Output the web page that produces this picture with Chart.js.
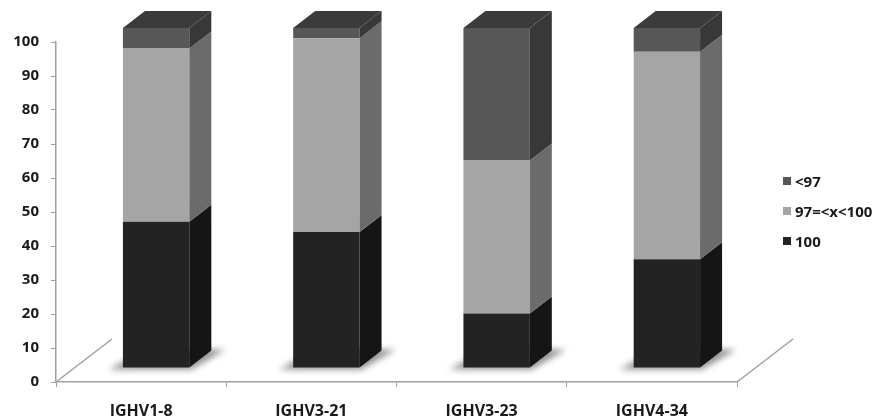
<!DOCTYPE html>
<html>
<head>
<meta charset="utf-8">
<script src="https://cdn.jsdelivr.net/npm/chart.js@4.4.0/dist/chart.umd.min.js"></script>
<style>
body { margin: 0; background: #fff; }
#wrap { position: relative; width: 885px; height: 419px; }
#legend { position: absolute; left: 783px; top: 166px; font: bold 15px "Open Sans", sans-serif; color: #1a1a1a; }
.item { height: 30px; display: flex; align-items: center; }
.box { width: 8px; height: 8px; margin-right: 4px; }
</style>
</head>
<body>
<div id="wrap">
  <canvas id="chart-bar" width="885" height="419"></canvas>
  <div id="legend"></div>
</div>
<script>
// data (percent)
var categories = ['IGHV1-8', 'IGHV3-21', 'IGHV3-23', 'IGHV4-34'];
var seriesNames = ['100', '97=<x<100', '<97'];
var val100 = [43, 40, 16, 32];
var val97to100 = [51, 57, 45, 61];
var valBelow97 = [6, 3, 39, 7];

var frontColors = ['#232323', '#a5a5a5', '#575757'];
var sideColors = ['#151515', '#6b6b6b', '#383838'];
var topColor = '#3b3b3b';

// 3d look
var shiftX = 15, shiftY = -14, depthX = 22, depthY = -17;

function poly(ctx, pts) {
    ctx.beginPath();
    ctx.moveTo(pts[0][0], pts[0][1]);
    for (var i = 1; i < pts.length; i++) ctx.lineTo(pts[i][0], pts[i][1]);
    ctx.closePath();
    ctx.fill();
}

var bars3d = {
    id: 'bars3d',
    beforeDatasetsDraw: function(chart) {
        var ctx = chart.ctx;
        var a = chart.chartArea;
        // floor edges
        ctx.save();
        ctx.strokeStyle = '#a0a0a0';
        ctx.lineWidth = 1.5;
        ctx.beginPath();
        ctx.moveTo(a.left, a.bottom); ctx.lineTo(a.left + 56, a.bottom - 43);
        ctx.moveTo(a.right, a.bottom); ctx.lineTo(a.right + 56, a.bottom - 43);
        ctx.stroke();
        ctx.restore();

        ctx.save();
        ctx.translate(shiftX, shiftY);
        // shadows on the floor
        ctx.fillStyle = 'rgba(100,100,100,0.7)';
        ctx.filter = 'blur(3px)';
        chart.getDatasetMeta(0).data.forEach(function(bar) {
            var p = bar.getProps(['x', 'base', 'width'], true);
            var lx = p.x - p.width / 2, rx = p.x + p.width / 2, b = p.base;
            poly(ctx, [[lx - 14, b + 2], [rx + 2, b + 2], [rx + depthX + 14, b + depthY - 1], [lx + depthX, b + depthY - 1]]);
        });
        ctx.filter = 'none';
        // translation stays on while chart.js draws the fronts
    },
    afterDatasetsDraw: function(chart) {
        var ctx = chart.ctx;
        var n = chart.data.datasets.length;
        for (var i = 0; i < n; i++) {
            chart.getDatasetMeta(i).data.forEach(function(bar) {
                var p = bar.getProps(['x', 'y', 'base', 'width'], true);
                var lx = p.x - p.width / 2, rx = p.x + p.width / 2;
                var top = Math.min(p.y, p.base), bot = Math.max(p.y, p.base);
                ctx.fillStyle = sideColors[i];
                poly(ctx, [[rx, top], [rx + depthX, top + depthY], [rx + depthX, bot + depthY], [rx, bot]]);
                if (i == n - 1) {
                    ctx.fillStyle = topColor;
                    poly(ctx, [[lx, top], [lx + depthX, top + depthY], [rx + depthX, top + depthY], [rx, top]]);
                }
            });
        }
        ctx.restore();
    }
};

const ctx = document.getElementById('chart-bar').getContext('2d');
const myChart = new Chart(ctx, {
    type: 'bar',
    data: {
        labels: categories,
        datasets: [{
            label: seriesNames[0],
            data: val100,
            backgroundColor: frontColors[0],
            borderWidth: 0,
            clip: false
        },
        {
            label: seriesNames[1],
            data: val97to100,
            backgroundColor: frontColors[1],
            borderWidth: 0,
            clip: false
        },
        {
            label: seriesNames[2],
            data: valBelow97,
            backgroundColor: frontColors[2],
            borderWidth: 0,
            clip: false
        }]
    },
    options: {
        responsive: false,
        animation: false,
        layout: { padding: { top: 42, right: 148, left: 0, bottom: 0 } },
        datasets: { bar: { categoryPercentage: 1, barPercentage: 0.39 } },
        plugins: { legend: { display: false }, tooltip: { enabled: false } },
        scales: {
            x: {
                stacked: true,
                grid: { drawOnChartArea: false, color: '#a0a0a0', tickLength: 5 },
                border: { color: '#a0a0a0', width: 1.5 },
                ticks: { font: { family: 'Open Sans', size: 16, weight: 'bold' }, color: '#1a1a1a', padding: 15 },
                afterFit: function(s) { s.height = 37; }
            },
            y: {
                stacked: true,
                min: 0,
                max: 100,
                ticks: { stepSize: 10, font: { family: 'Open Sans', size: 15, weight: 'bold' }, color: '#1a1a1a', padding: 12 },
                grid: { drawOnChartArea: false, color: '#a0a0a0', tickLength: 5 },
                border: { color: '#a0a0a0', width: 1.5 },
                afterFit: function(s) { s.width = 56; }
            }
        }
    },
    plugins: [bars3d]
});

// legend, top series first like the original
var legend = document.getElementById('legend');
for (var i = seriesNames.length - 1; i >= 0; i--) {
    var item = document.createElement('div');
    item.className = 'item';
    var box = document.createElement('span');
    box.className = 'box';
    box.style.background = frontColors[i];
    var txt = document.createElement('span');
    txt.textContent = seriesNames[i];
    item.appendChild(box);
    item.appendChild(txt);
    legend.appendChild(item);
}
</script>
</body>
</html>
